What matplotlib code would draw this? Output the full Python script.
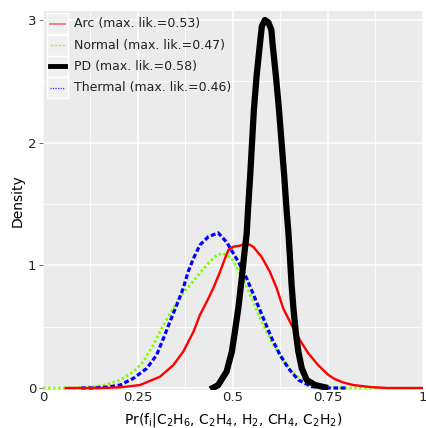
import numpy as np
import matplotlib
matplotlib.use("Agg")
import matplotlib.pyplot as plt
from matplotlib.patches import Rectangle
from matplotlib.ticker import MultipleLocator

# # Data _____________________________________________________________________________________
arc_x = [0.06, 0.15, 0.203, 0.255, 0.308, 0.343, 0.369, 0.396, 0.413, 0.431, 0.448, 0.466, 0.479,
         0.488, 0.501, 0.518, 0.536, 0.553, 0.575, 0.597, 0.615, 0.632, 0.654, 0.676, 0.698, 0.724,
         0.751, 0.768, 0.79, 0.817, 0.86, 0.904, 1.0]
arc_y = [0.0, 0.0, 0.005, 0.024, 0.092, 0.187, 0.296, 0.459, 0.595, 0.704, 0.813, 0.948, 1.057,
         1.125, 1.152, 1.16, 1.18, 1.152, 1.07, 0.948, 0.813, 0.65, 0.514, 0.391, 0.283, 0.187,
         0.106, 0.073, 0.045, 0.024, 0.008, 0.0, 0.0]

normal_x = [0.0, 0.08, 0.13, 0.168, 0.203, 0.238, 0.264, 0.29, 0.317, 0.343, 0.365, 0.387, 0.409,
            0.431, 0.457, 0.474, 0.497, 0.514, 0.532, 0.553, 0.575, 0.602, 0.628, 0.654, 0.681,
            0.716, 0.751, 0.80, 0.887]
normal_y = [0.0, 0.0, 0.01, 0.028, 0.065, 0.133, 0.214, 0.35, 0.514, 0.65, 0.758, 0.84, 0.921,
            1.003, 1.084, 1.098, 1.057, 0.96, 0.853, 0.704, 0.54, 0.377, 0.242, 0.133, 0.065,
            0.024, 0.006, 0.0, 0.0]

pd_x = [0.44, 0.45, 0.461, 0.483, 0.497, 0.505, 0.514, 0.523, 0.530, 0.536, 0.5395, 0.545, 0.550,
        0.555, 0.562, 0.571, 0.576, 0.584, 0.593, 0.601, 0.604, 0.613, 0.621, 0.628, 0.635, 0.641,
        0.646, 0.650, 0.654, 0.659, 0.665, 0.672, 0.681, 0.694, 0.716, 0.75]
pd_y = [-0.01, 0.005, 0.024, 0.133, 0.296, 0.459, 0.65, 0.894, 1.10, 1.26, 1.45, 1.72, 1.995,
        2.27, 2.54, 2.81, 2.95, 3.0, 2.98, 2.92, 2.81, 2.54, 2.27, 1.995, 1.72, 1.45,
        1.26, 1.06, 0.85, 0.65, 0.46, 0.296, 0.16, 0.065, 0.024, 0.0]

thermal_x = [0.10, 0.13, 0.17, 0.203, 0.238, 0.273, 0.299, 0.317, 0.334, 0.352, 0.369, 0.382,
             0.396, 0.413, 0.435, 0.461, 0.483, 0.514, 0.536, 0.558, 0.58, 0.602, 0.624, 0.646,
             0.672, 0.707, 0.75, 0.80]
thermal_y = [0.0, 0.0, 0.008, 0.024, 0.079, 0.16, 0.269, 0.405, 0.54, 0.677, 0.813, 0.948,
             1.057, 1.166, 1.233, 1.265, 1.19, 1.03, 0.894, 0.731, 0.568, 0.405, 0.269, 0.16,
             0.065, 0.011, 0.0, 0.0]

labels = ["Arc (max. lik.=0.53)", "Normal (max. lik.=0.47)",
          "PD (max. lik.=0.58)", "Thermal (max. lik.=0.46)"]
x_ticks = [0, 0.25, 0.5, 0.75, 1]
x_tick_labels = ["0", "0.25", "0.5", "0.75", "1"]
y_ticks = [0, 1, 2, 3]

# # Figure ________________________________________________________________________________________
plt.rcParams['font.family'] = ['DejaVu Sans']
plt.rcParams['mathtext.fontset'] = 'dejavusans'

W, H = 427, 428
fig = plt.figure(figsize=(W / 100, H / 100), dpi=100)
L, R, T, B = 43, 423, 11, 390
ax = fig.add_axes([L / W, (H - B) / H, (R - L) / W, (B - T) / H])
ax.set_facecolor('#ebebeb')
for s in ax.spines.values():
    s.set_visible(False)

ax.set_xlim(0, 1)
ax.set_ylim(-(B - 388) / 122.67, (388 - T) / 122.67)

ax.set_xticks(x_ticks)
ax.set_xticklabels(x_tick_labels)
ax.set_yticks(y_ticks)
ax.xaxis.set_minor_locator(MultipleLocator(0.125))
ax.yaxis.set_minor_locator(MultipleLocator(0.5))
ax.grid(which='major', color='white', lw=1.1)
ax.grid(which='minor', color='white', lw=0.6)
ax.set_axisbelow(True)
ax.tick_params(axis='x', which='both', length=0, pad=1, labelsize=9.5, labelcolor='#222222')
ax.tick_params(axis='y', which='major', length=3, width=0.6, color='#555555', pad=2,
               labelsize=9.5, labelcolor='#222222')
ax.tick_params(axis='y', which='minor', length=0)

ax.plot(normal_x, normal_y, color='#7fff00', lw=2.0, ls=(0, (0.9, 0.9)), zorder=3)
ax.plot(thermal_x, thermal_y, color='#0000ff', lw=2.3, ls=(0, (1.5, 0.8)), zorder=4)
ax.plot(arc_x, arc_y, color='#ff0000', lw=1.7, zorder=5)
ax.plot(pd_x, pd_y, color='black', lw=4.5, solid_capstyle='butt', zorder=6)

ax.set_ylabel('Density', fontsize=10, labelpad=2)
ax.set_xlabel(r'Pr(f$_\mathrm{i}$|C$_2$H$_6$, C$_2$H$_4$, H$_2$, CH$_4$, C$_2$H$_2$)',
              fontsize=10, labelpad=5)

# # Legend, drawn by hand in axes fractions so the key boxes match _______________________________
def px2ax(px, py):
    return (px - L) / (R - L), (B - py) / (B - T)

row_tops = [13, 34.5, 55.5, 77]
row_h = 21.3
key_styles = [dict(color='#f07b7b', lw=1.3),
              dict(color='#a8f060', lw=1.0, ls=(0, (2, 1))),
              dict(color='black', lw=3.5),
              dict(color='#3030ff', lw=0.9, ls=(0, (1, 1)))]
for top, lab, st in zip(row_tops, labels, key_styles):
    x0, y1 = px2ax(47, top)
    x1, y0 = px2ax(68, top + row_h)
    ax.add_patch(Rectangle((x0, y0), x1 - x0, y1 - y0, transform=ax.transAxes,
                           facecolor='#f0f0f0', edgecolor='white', lw=1.0, zorder=7))
    xa, ym = px2ax(50, top + row_h / 2)
    xb, _ = px2ax(65, top + row_h / 2)
    ax.plot([xa, xb], [ym, ym], transform=ax.transAxes, zorder=8, **st)
    xt, _ = px2ax(74, 0)
    ax.text(xt, ym, lab, transform=ax.transAxes, va='center', ha='left',
            fontsize=9, color='#222222', zorder=8)

fig.savefig('out.png', dpi=100)
